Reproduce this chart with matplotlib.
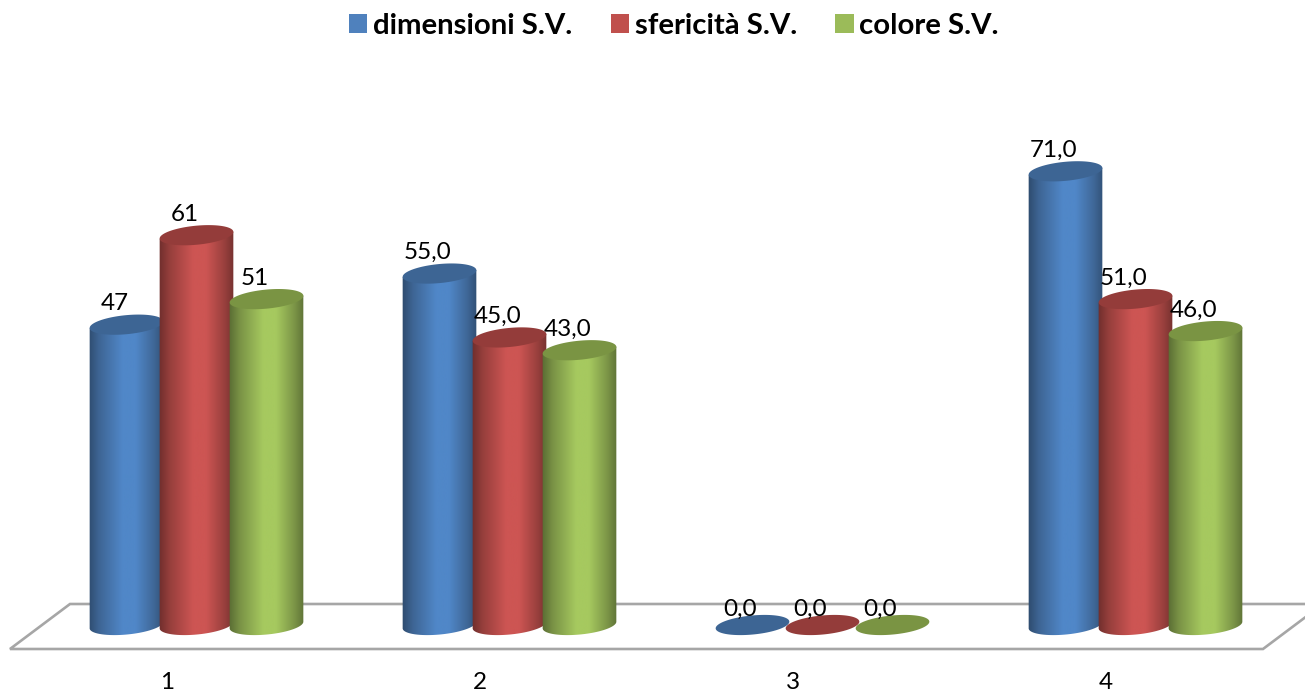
import numpy as np
import matplotlib.pyplot as plt
from matplotlib.colors import LinearSegmentedColormap, to_rgb
from matplotlib.patches import Patch, Polygon

categories = [1, 2, 3, 4]
series_names = ['dimensioni S.V.', 'sfericità S.V.', 'colore S.V.']
dimensioni = [47, 55.0, 0.0, 71.0]
sfericita = [61, 45.0, 0.0, 51.0]
colore = [51, 43.0, 0.0, 46.0]
decimals = [0, 1, 1, 1]  # first group is labelled without decimals

base_colors = ['#4f81bd', '#c0504d', '#9bbb59']
peak_colors = ['#5087c8', '#cd5553', '#a6c95f']
top_colors = ['#3d6594', '#943c3a', '#7a9443']

W, H = 1305, 693
PX_X = 313.0   # pixels per category
PX_Y = 6.39    # pixels per value unit
BASE_PX = 625  # pixel row of value 0
AXES_BOTTOM = 660

plt.rcParams['font.family'] = ['Lato', 'DejaVu Sans']

fig = plt.figure(figsize=(W / 100, H / 100), dpi=100)
ax = fig.add_axes([0, (H - AXES_BOTTOM) / H, 1, AXES_BOTTOM / H])
x_left = 1 - 167 / PX_X
ax.set_xlim(x_left, x_left + W / PX_X)
ax.set_ylim((BASE_PX - AXES_BOTTOM) / PX_Y, BASE_PX / PX_Y)


def to_data(px, py):
    return x_left + px / PX_X, (BASE_PX - py) / PX_Y


# tilted ellipse outline, a and b are semi axes in pixels
def ellipse(cx, y, a=37.0, b=9.5, tilt=-5.5, t=None):
    if t is None:
        t = np.linspace(0, 2 * np.pi, 120)
    th = np.radians(tilt)
    ex = a * np.cos(t) * np.cos(th) - b * np.sin(t) * np.sin(th)
    ey = a * np.cos(t) * np.sin(th) + b * np.sin(t) * np.cos(th)
    return np.column_stack([cx + ex / PX_X, y - ey / PX_Y])


def cylinder(cx, value, color, peak, top, z):
    if value > 0:
        cmap = LinearSegmentedColormap.from_list('shade', [
            (0.0, np.array(to_rgb(color)) * 0.58),
            (0.14, np.array(to_rgb(color)) * 0.78),
            (0.45, to_rgb(peak)),
            (0.62, to_rgb(peak)),
            (0.86, np.array(to_rgb(color)) * 0.8),
            (1.0, np.array(to_rgb(color)) * 0.6)])
        arc = ellipse(cx, 0, t=np.linspace(0, np.pi, 60))  # lower half, right to left
        ends = ellipse(cx, value, t=np.array([np.pi, 0.0]))
        body = Polygon(np.vstack([ends, arc]), closed=True, transform=ax.transData,
                       facecolor='none', edgecolor='none')
        ax.add_patch(body)
        half = 38.0 / PX_X
        im = ax.imshow(np.linspace(0, 1, 256)[None, :], cmap=cmap, aspect='auto',
                       extent=[cx - half, cx + half, -3, value + 3], zorder=z)
        im.set_clip_path(body)
    ax.add_patch(Polygon(ellipse(cx, value), closed=True, facecolor=top,
                         edgecolor='none', zorder=z + 0.1))


# floor of the 3d plot
floor = [to_data(70, 604), to_data(1323, 604), to_data(1263, 649), to_data(10, 649)]
ax.add_patch(Polygon(floor, closed=True, facecolor='white', edgecolor='#a6a6a6',
                     linewidth=1.9, zorder=1))

depth_shift = 29.5 / PX_X
offsets = np.array([-1, 0, 1]) * 70 / PX_X
series = [dimensioni, sfericita, colore]
for s, values in enumerate(series):
    for i, v in enumerate(values):
        cx = categories[i] + depth_shift + offsets[s]
        cylinder(cx, v, base_colors[s], peak_colors[s], top_colors[s], 2 + s)
        label = f'{v:.{decimals[i]}f}'.replace('.', ',')
        ax.text(cx - 12 / PX_X, v + 21 / PX_Y if v > 0 else v + 16 / PX_Y, label,
                ha='center', va='center', fontsize=17.5, color='black', zorder=10)

ax.set_xlim(x_left, x_left + W / PX_X)
ax.set_ylim((BASE_PX - AXES_BOTTOM) / PX_Y, BASE_PX / PX_Y)
ax.set_xticks(categories)
ax.set_xticklabels([str(c) for c in categories], fontsize=17.5)
ax.tick_params(axis='x', length=0, pad=8.5)
ax.set_yticks([])
for sp in ax.spines.values():
    sp.set_visible(False)

handles = [Patch(facecolor=c, edgecolor='none', label=n)
           for c, n in zip(base_colors, series_names)]
fig.legend(handles=handles, loc='center', bbox_to_anchor=(674 / W, 1 - 26 / H), ncol=3,
           frameon=False, prop={'weight': 'bold', 'size': 21.2}, handlelength=0.62,
           handleheight=0.62, handletextpad=0.2, columnspacing=1.3)

fig.savefig('out.png', dpi=100)
